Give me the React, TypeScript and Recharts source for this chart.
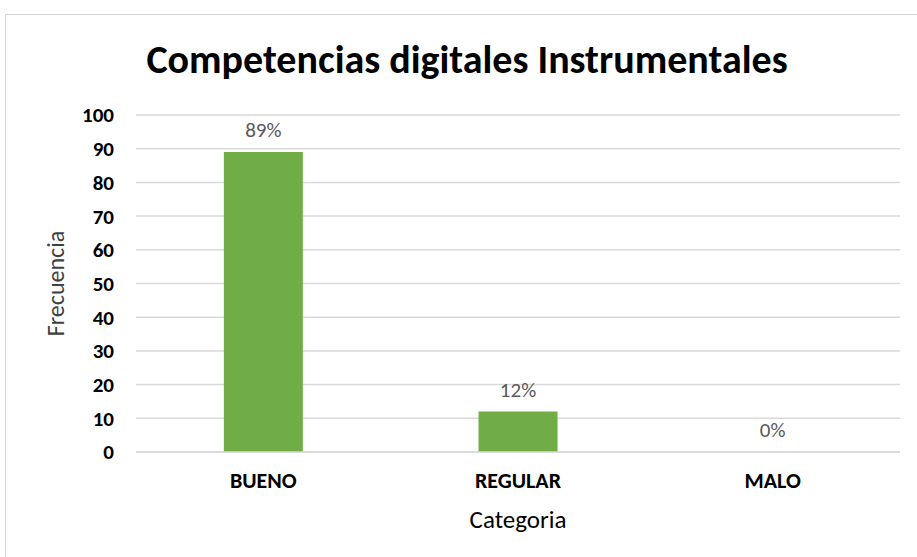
import { ComposedChart, Bar, Line, XAxis, YAxis, CartesianGrid, LabelList, Label } from 'recharts';

const categories = ['BUENO', 'REGULAR', 'MALO'];
const frecuencia = [89, 12, 0];
const yTicks = [0, 10, 20, 30, 40, 50, 60, 70, 80, 90, 100];

const data = categories.map((c, i) => ({ categoria: c, valor: frecuencia[i] }));

const FONT = "Carlito, Calibri, 'Open Sans', sans-serif";

export default function App() {
  return (
    <div
      style={{
        position: 'absolute',
        left: 0,
        top: 0,
        width: 917,
        height: 557,
        overflow: 'hidden',
        background: '#fff',
        fontFamily: FONT,
      }}
    >
      <div
        style={{
          position: 'absolute',
          left: 5,
          top: 14,
          width: 940,
          height: 600,
          border: '1px solid #d9d9d9',
          boxSizing: 'border-box',
        }}
      />
      <div
        style={{
          position: 'absolute',
          left: 5,
          top: 36,
          width: 924,
          textAlign: 'center',
          fontSize: 40,
          fontWeight: 700,
          color: '#000',
          lineHeight: '48px',
        }}
      >
        Competencias digitales Instrumentales
      </div>
      <div style={{ position: 'absolute', left: 0, top: 0 }}>
        <ComposedChart
          width={917}
          height={557}
          data={data}
          margin={{ top: 115, right: 17, bottom: 45, left: 40 }}
          barCategoryGap="34.5%"
        >
          <CartesianGrid vertical={false} stroke="#d9d9d9" strokeWidth={1.5} />
          <XAxis
            dataKey="categoria"
            height={60}
            axisLine={{ stroke: '#d9d9d9', strokeWidth: 1.5 }}
            tickLine={false}
            tickMargin={14}
            tick={{ fill: '#000', fontSize: 22, fontWeight: 700, fontFamily: FONT }}
          >
            <Label
              value="Categoria"
              position="insideBottom"
              offset={-16}
              style={{ fill: '#000', fontSize: 25, fontFamily: FONT }}
            />
          </XAxis>
          <YAxis
            width={96}
            domain={[0, 100]}
            ticks={yTicks}
            interval={0}
            axisLine={false}
            tickLine={false}
            tickMargin={16}
            tick={{ fill: '#000', fontSize: 21, fontWeight: 700, fontFamily: FONT }}
          >
            <Label
              value="Frecuencia"
              angle={-90}
              position="insideLeft"
              offset={15}
              style={{ textAnchor: 'middle', fill: '#404040', fontSize: 24, fontFamily: FONT }}
            />
          </YAxis>
          <Bar dataKey="valor" fill="#70AD47" isAnimationActive={false} />
          <Line
            dataKey="valor"
            stroke="none"
            dot={false}
            activeDot={false}
            legendType="none"
            isAnimationActive={false}
          >
            <LabelList
              dataKey="valor"
              position="top"
              offset={15}
              formatter={(v: number) => `${v}%`}
              style={{ fill: '#595959', fontSize: 21, fontFamily: FONT }}
            />
          </Line>
        </ComposedChart>
      </div>
    </div>
  );
}
